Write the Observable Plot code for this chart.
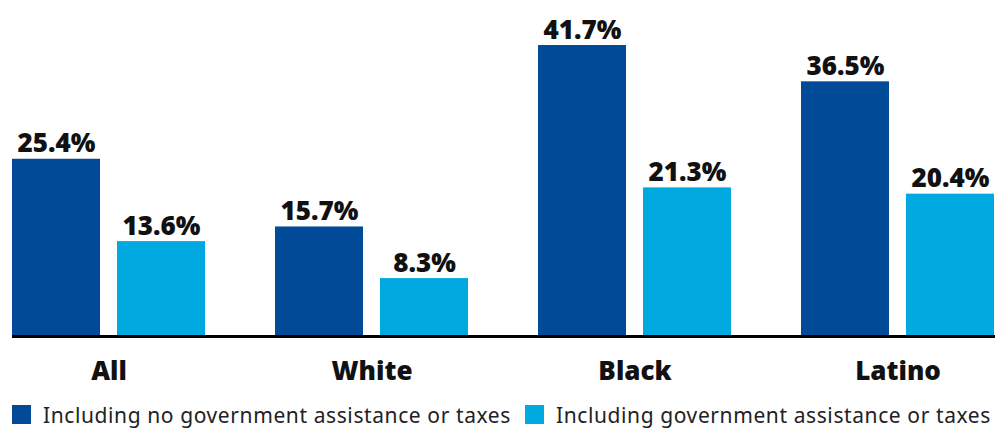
<!DOCTYPE html>
<html>
<head>
<meta charset="utf-8">
<script src="https://cdn.jsdelivr.net/npm/d3@7"></script>
<script src="https://cdn.jsdelivr.net/npm/@observablehq/plot@0.6"></script>
<style>
  html, body { margin: 0; padding: 0; background: #fff; }
  #chart { width: 999px; }
  .legend { display: flex; align-items: center; height: 45px; font-family: "Noto Sans", sans-serif; font-size: 21px; letter-spacing: 0.6px; color: #222; white-space: nowrap; }
  .legend .item { display: flex; align-items: center; }
  .legend .sw { width: 19px; height: 19px; margin-right: 12px; flex: none; }
</style>
</head>
<body>
<div id="chart"></div>
<script>
const categories = ["All", "White", "Black", "Latino"];
const seriesNames = ["Including no government assistance or taxes", "Including government assistance or taxes"];
const noAssistance = [25.4, 15.7, 41.7, 36.5];
const withAssistance = [13.6, 8.3, 21.3, 20.4];
const colors = ["#004a97", "#00a9e0"];

const dataNo = categories.map((c, i) => ({category: c, value: noAssistance[i]}));
const dataWith = categories.map((c, i) => ({category: c, value: withAssistance[i]}));
const fmt = d => d.value.toFixed(1) + "%";

const boldFont = "'Open Sans', sans-serif";
const labelStyle = {fontSize: 26, fontWeight: 800, fill: "#111", lineAnchor: "bottom", dy: -7, fontFamily: boldFont};

const plot = Plot.plot({
  width: 999,
  height: 392,
  marginLeft: 12,
  marginRight: 4,
  marginTop: 22,
  marginBottom: 56,
  x: {domain: categories, paddingInner: 0.266, paddingOuter: 0, align: 0},
  y: {domain: [0, 45], axis: null},
  style: {fontFamily: boldFont},
  marks: [
    Plot.barY(dataNo, {x: "category", y: "value", fill: colors[0], insetRight: 105}),
    Plot.barY(dataWith, {x: "category", y: "value", fill: colors[1], insetLeft: 105}),
    Plot.text(dataNo, {x: "category", y: "value", text: fmt, ...labelStyle, dx: -52.5}),
    Plot.text(dataWith, {x: "category", y: "value", text: fmt, ...labelStyle, dx: 52.5}),
    Plot.ruleY([0], {stroke: "#000", strokeWidth: 3}),
    Plot.axisX({tickSize: 0, tickPadding: 25, fontSize: 26, fontWeight: 800, fill: "#111", fontFamily: boldFont, label: null})
  ]
});
document.getElementById("chart").appendChild(plot);

const legend = document.createElement("div");
legend.className = "legend";
seriesNames.forEach((name, i) => {
  const item = document.createElement("div");
  item.className = "item";
  item.style.marginLeft = i === 0 ? "12px" : "14px";
  const sw = document.createElement("span");
  sw.className = "sw";
  sw.style.background = colors[i];
  const t = document.createElement("span");
  t.textContent = name;
  item.appendChild(sw);
  item.appendChild(t);
  legend.appendChild(item);
});
document.body.appendChild(legend);
</script>
</body>
</html>
